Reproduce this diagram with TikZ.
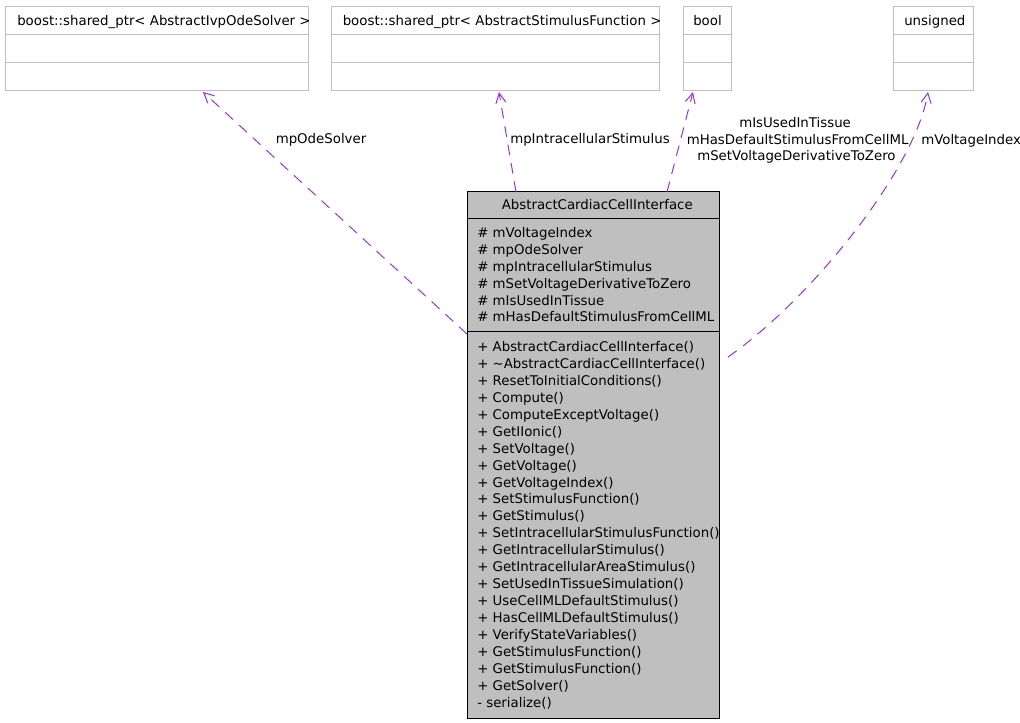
\documentclass[tikz,border=0pt]{standalone}
\usepackage{fontspec}
\setmainfont{DejaVu Sans}
\usetikzlibrary{arrows.meta,fit}
\definecolor{boxgray}{HTML}{BFBFBF}
\definecolor{edgepurple}{HTML}{9A32CD}
\begin{document}
\begin{tikzpicture}[x=0.75pt,y=-0.75pt,
  txt/.style={anchor=base west, inner sep=0pt, font=\fontsize{10pt}{12pt}\selectfont},
  topbox/.style={draw=boxgray, line width=0.75pt, inner sep=0pt},
  divg/.style={draw=boxgray, line width=0.75pt},
  mainbox/.style={draw=black, fill=boxgray, line width=0.75pt, inner sep=0pt},
  divb/.style={draw=black, line width=0.75pt},
  rel/.style={draw=edgepurple, line width=0.75pt, dash pattern=on 8pt off 6pt,
    -{Straight Barb[length=7.5pt,width=7.5pt]}},
]
\useasboundingbox (0,0) rectangle (1020,723);

% top boxes
\node[topbox, fit={(5,7)(308,91)}] (ode) {};
\draw[divg] (5,35) -- (308,35) (5,63) -- (308,63);
\node[txt] (odet) at (17,25.5) {boost::shared\_ptr< AbstractIvpOdeSolver >};

\node[topbox, fit={(331,7)(659,91)}] (stim) {};
\draw[divg] (331,35) -- (659,35) (331,63) -- (659,63);
\node[txt] (stimt) at (342.5,25.5) {boost::shared\_ptr< AbstractStimulusFunction >};

\node[topbox, fit={(683,7)(731,91)}] (bool) {};
\draw[divg] (683,35) -- (731,35) (683,63) -- (731,63);
\node[txt] (boolt) at (693,25.5) {bool};

\node[topbox, fit={(893,7)(973,91)}] (uns) {};
\draw[divg] (893,35) -- (973,35) (893,63) -- (973,63);
\node[txt] (unst) at (904,25.5) {unsigned};

% main class box
\node[mainbox, fit={(467,192)(719,718)}] (main) {};
\draw[divb] (467,219) -- (719,219) (467,332) -- (719,332);
\node[txt] (maint) at (501.5,210) {AbstractCardiacCellInterface};

\foreach \t [count=\i from 0] in {%
  {\# mVoltageIndex},
  {\# mpOdeSolver},
  {\# mpIntracellularStimulus},
  {\# mSetVoltageDerivativeToZero},
  {\# mIsUsedInTissue},
  {\# mHasDefaultStimulusFromCellML}}
  \node[txt] (a\i) at (477,{237.5+16.9*\i}) {\t};

\foreach \t [count=\i from 0] in {%
  {+ AbstractCardiacCellInterface()},
  {+ \textasciitilde AbstractCardiacCellInterface()},
  {+ ResetToInitialConditions()},
  {+ Compute()},
  {+ ComputeExceptVoltage()},
  {+ GetIIonic()},
  {+ SetVoltage()},
  {+ GetVoltage()},
  {+ GetVoltageIndex()},
  {+ SetStimulusFunction()},
  {+ GetStimulus()},
  {+ SetIntracellularStimulusFunction()},
  {+ GetIntracellularStimulus()},
  {+ GetIntracellularAreaStimulus()},
  {+ SetUsedInTissueSimulation()},
  {+ UseCellMLDefaultStimulus()},
  {+ HasCellMLDefaultStimulus()},
  {+ VerifyStateVariables()},
  {+ GetStimulusFunction()},
  {+ GetStimulusFunction()},
  {+ GetSolver()},
  {- serialize()}}
  \node[txt] (m\i) at (477,{351.7+16.92*\i}) {\t};

% connector end points
\coordinate (odetip) at (203,92);
\coordinate (odetail) at (467,334);
\coordinate (stimtip) at (499,92);
\coordinate (stimtail) at (516,192);
\coordinate (booltip) at (693,92);
\coordinate (booltail) at (667,192);
\coordinate (unstip) at (928,92);
\coordinate (unstail) at (728,357);

\draw[rel] (odetail) -- (odetip);
\draw[rel] (stimtail) -- (stimtip);
\draw[rel] (booltail) -- (booltip);
\draw[rel] (unstail) .. controls (810,300) and (915,170) .. (unstip);

% connector labels
\node[txt] (lode) at (275.5,144) {mpOdeSolver};
\node[txt] (lstim) at (510,144) {mpIntracellularStimulus};
\node[txt] (lbool1) at (739,127.5) {mIsUsedInTissue};
\node[txt] (lbool2) at (686.5,144.3) {mHasDefaultStimulusFromCellML};
\node[txt] (lbool3) at (697,160.8) {mSetVoltageDerivativeToZero};
\node[txt] (luns) at (921,144.3) {mVoltageIndex};
\end{tikzpicture}
\end{document}
